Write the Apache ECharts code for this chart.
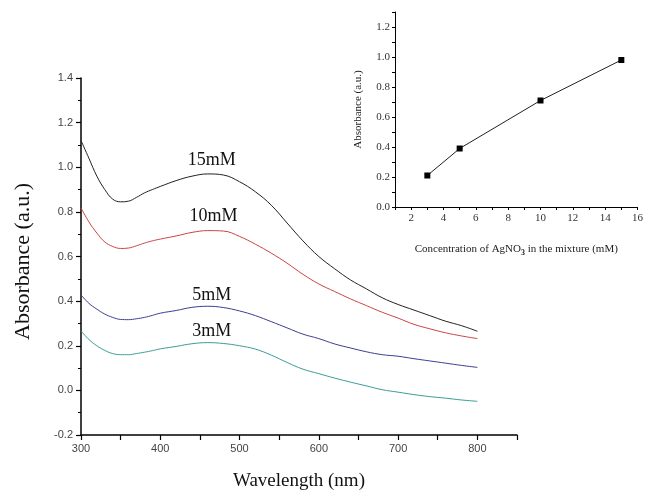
<!DOCTYPE html>
<html>
<head>
<meta charset="utf-8">
<script src="https://cdn.jsdelivr.net/npm/echarts@6/dist/echarts.min.js"></script>
<style>
  html, body { margin: 0; padding: 0; background: #fff; }
  #chart { width: 646px; height: 503px; }
</style>
</head>
<body>
<div id="chart"></div>
<script>
// UV-vis spectra
var wavelength = [300, 310, 320, 330, 340, 350, 360, 370, 380, 390, 400, 420, 440, 460, 480, 500, 520, 540, 560, 580, 600, 620, 640, 660, 680, 700, 720, 740, 760, 780, 800];
var abs15mM = [1.12, 1.04, 0.96, 0.90, 0.857, 0.845, 0.848, 0.865, 0.885, 0.90, 0.914, 0.94, 0.96, 0.97, 0.965, 0.935, 0.89, 0.83, 0.75, 0.67, 0.60, 0.545, 0.495, 0.455, 0.415, 0.385, 0.36, 0.335, 0.31, 0.29, 0.265];
var abs10mM = [0.818, 0.755, 0.705, 0.665, 0.645, 0.636, 0.638, 0.648, 0.66, 0.67, 0.678, 0.692, 0.708, 0.716, 0.714, 0.69, 0.655, 0.615, 0.57, 0.52, 0.477, 0.443, 0.41, 0.38, 0.35, 0.324, 0.296, 0.276, 0.258, 0.244, 0.232];
var abs5mM = [0.428, 0.39, 0.364, 0.342, 0.327, 0.318, 0.317, 0.321, 0.327, 0.336, 0.346, 0.358, 0.372, 0.377, 0.371, 0.356, 0.335, 0.308, 0.28, 0.252, 0.232, 0.208, 0.19, 0.173, 0.16, 0.153, 0.142, 0.132, 0.122, 0.112, 0.103];
var abs3mM = [0.267, 0.228, 0.2, 0.179, 0.165, 0.16, 0.16, 0.165, 0.171, 0.178, 0.186, 0.197, 0.209, 0.214, 0.21, 0.2, 0.185, 0.158, 0.125, 0.095, 0.075, 0.055, 0.037, 0.02, 0.003, -0.008, -0.019, -0.028, -0.035, -0.043, -0.049];
var curveNames = ['15mM', '10mM', '5mM', '3mM'];

// inset: absorbance vs AgNO3 concentration
var concentration = [3, 5, 10, 15];
var peakAbs = [0.21, 0.39, 0.71, 0.98];

var chart = echarts.init(document.getElementById('chart'));

function pairs(xs, ys) {
  return xs.map(function (x, i) { return [x, ys[i]]; });
}

var spectra = [abs15mM, abs10mM, abs5mM, abs3mM];
var colors = ['#222222', '#cc4444', '#3d3d94', '#3a9c9c'];
// where the curve labels sit (data coords)
var labelPos = [[465, 1.03], [467, 0.78], [465, 0.426], [465, 0.265]];

var serif = '"Liberation Serif", "DejaVu Serif", serif';
var sans = '"Liberation Sans", Arial, sans-serif';

var series = spectra.map(function (ys, i) {
  return {
    type: 'line',
    xAxisIndex: 0,
    yAxisIndex: 0,
    data: pairs(wavelength, ys),
    smooth: 0.4,
    symbol: 'none',
    lineStyle: { color: colors[i], width: 1 },
    markPoint: {
      symbol: 'circle',
      symbolSize: 0,
      silent: true,
      label: {
        show: true,
        position: 'inside',
        formatter: curveNames[i],
        fontFamily: serif,
        fontSize: 18,
        color: '#111'
      },
      data: [{ coord: labelPos[i] }]
    }
  };
});

series.push({
  type: 'line',
  xAxisIndex: 1,
  yAxisIndex: 1,
  data: pairs(concentration, peakAbs),
  symbol: 'rect',
  symbolSize: 6,
  itemStyle: { color: '#000' },
  lineStyle: { color: '#222', width: 1 }
});

var option = {
  backgroundColor: '#fff',
  animation: false,
  grid: [
    { left: 81, top: 78, width: 436, height: 357 },
    { left: 395, top: 12, width: 246.5, height: 195 }
  ],
  xAxis: [
    {
      gridIndex: 0,
      type: 'value',
      min: 300,
      max: 850,
      interval: 50,
      name: 'Wavelength (nm)',
      nameLocation: 'middle',
      nameGap: 37,
      nameTextStyle: { fontFamily: serif, fontSize: 19, color: '#111' },
      axisLine: { onZero: false, lineStyle: { color: '#000', width: 1.5 } },
      axisTick: { length: 5, lineStyle: { color: '#000', width: 1.2 } },
      axisLabel: {
        fontFamily: sans, fontSize: 11, color: '#444', margin: 8,
        formatter: function (v) { return (v % 100 === 0 && v <= 800) ? String(v) : ''; }
      },
      splitLine: { show: false }
    },
    {
      gridIndex: 1,
      type: 'value',
      min: 1,
      max: 16,
      interval: 1,
      name: 'Concentration of AgNO{sub|3} in the mixture (mM)',
      nameLocation: 'middle',
      nameGap: 35,
      nameTextStyle: {
        fontFamily: serif, fontSize: 11, color: '#222',
        rich: { sub: { fontFamily: serif, fontSize: 8, fontWeight: 'bold', color: '#222', padding: [7, 0, 0, 0] } }
      },
      axisLine: { onZero: false, lineStyle: { color: '#000', width: 1 } },
      axisTick: { length: 3, lineStyle: { color: '#000' } },
      axisLabel: {
        fontFamily: serif, fontSize: 11, color: '#333', margin: 6,
        formatter: function (v) { return v % 2 === 0 ? String(v) : ''; }
      },
      splitLine: { show: false }
    }
  ],
  yAxis: [
    {
      gridIndex: 0,
      type: 'value',
      min: -0.2,
      max: 1.4,
      interval: 0.2,
      name: 'Absorbance (a.u.)',
      nameLocation: 'middle',
      nameGap: 47,
      nameTextStyle: { fontFamily: serif, fontSize: 22, color: '#111', padding: [0, 0, 0, -10] },
      axisLine: { show: true, onZero: false, lineStyle: { color: '#000', width: 1.5 } },
      axisTick: { show: true, length: 5, lineStyle: { color: '#000', width: 1.2 } },
      minorTick: { show: true, splitNumber: 2, length: 3, lineStyle: { color: '#000' } },
      axisLabel: {
        fontFamily: sans, fontSize: 11, color: '#444', margin: 8,
        formatter: function (v) { return v.toFixed(1); }
      },
      splitLine: { show: false }
    },
    {
      gridIndex: 1,
      type: 'value',
      min: 0,
      max: 1.3,
      interval: 0.1,
      name: 'Absorbance (a.u.)',
      nameLocation: 'middle',
      nameGap: 31,
      nameTextStyle: { fontFamily: serif, fontSize: 11, color: '#222' },
      axisLine: { show: true, onZero: false, lineStyle: { color: '#000', width: 1 } },
      axisTick: { show: true, length: 3, lineStyle: { color: '#000' } },
      axisLabel: {
        fontFamily: serif, fontSize: 11, color: '#333', margin: 5,
        formatter: function (v) {
          var n = Math.round(v * 10);
          return (n % 2 === 0 && n <= 12) ? (n / 10).toFixed(1) : '';
        }
      },
      splitLine: { show: false }
    }
  ],
  series: series
};

option && chart.setOption(option);
</script>
</body>
</html>
